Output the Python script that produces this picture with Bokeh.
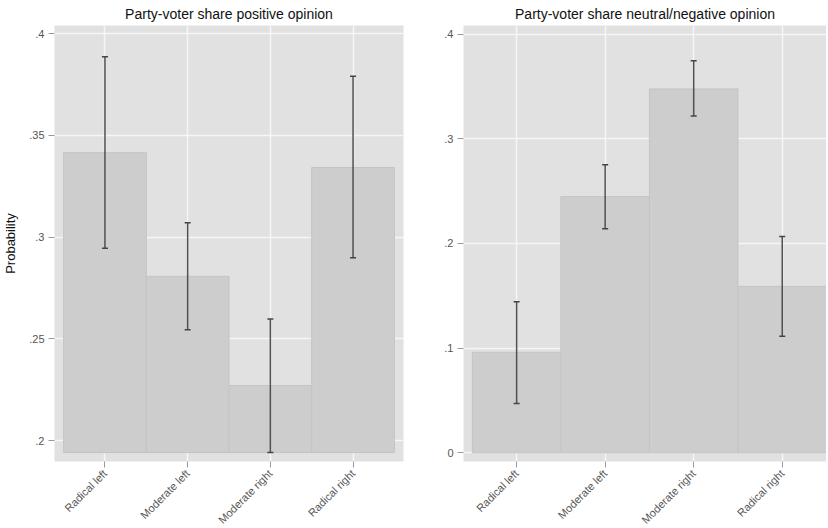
from bokeh.plotting import figure
from bokeh.layouts import row
from bokeh.models import ColumnDataSource, FixedTicker, Whisker, TeeHead
from bokeh.embed import file_html
from bokeh.resources import INLINE
import math

categories = ["Radical left", "Moderate left", "Moderate right", "Radical right"]
positions = [1, 2, 3, 4]

pos_mean = [0.3415, 0.2807, 0.2270, 0.3342]
pos_lower = [0.2945, 0.2545, 0.1941, 0.2898]
pos_upper = [0.3887, 0.3071, 0.2598, 0.3790]

neg_mean = [0.0960, 0.2447, 0.3476, 0.1590]
neg_lower = [0.0470, 0.2141, 0.3218, 0.1113]
neg_upper = [0.1444, 0.2752, 0.3746, 0.2067]

pos_ticks = [0.2, 0.25, 0.3, 0.35, 0.4]
pos_tick_labels = [".2", ".25", ".3", ".35", ".4"]
neg_ticks = [0.0, 0.1, 0.2, 0.3, 0.4]
neg_tick_labels = ["0", ".1", ".2", ".3", ".4"]

FONT = "Liberation Sans"
FRAME_BG = "#e1e1e1"
BAR = "#cdcdcd"
BAR_LINE = "#c4c4c4"


def make_panel(title, mean, lower, upper, ticks, tick_labels, base, yr, xr,
               fw, left_border, right_border, ylabel=None):
    p = figure(frame_width=fw, frame_height=436, x_range=xr, y_range=yr,
               output_backend="svg", toolbar_location=None,
               min_border_left=left_border, min_border_right=right_border,
               min_border_top=18, min_border_bottom=66)
    p.title.text = title
    p.title.text_font = FONT
    p.title.text_font_size = "14px"
    p.title.text_font_style = "normal"
    p.title.text_color = "#111111"
    p.title.align = "center"
    p.title.standoff = 7
    p.background_fill_color = FRAME_BG
    p.border_fill_color = "white"
    p.outline_line_color = None

    src = ColumnDataSource(dict(x=positions, top=mean, lower=lower, upper=upper))
    p.vbar(x="x", top="top", bottom=base, width=1.0, source=src,
           fill_color=BAR, line_color=BAR_LINE, line_width=1)

    w = Whisker(base="x", lower="lower", upper="upper", source=src,
                line_color="#505050", line_width=1.5, level="overlay",
                lower_head=TeeHead(size=6, line_color="#444444", line_width=1.5),
                upper_head=TeeHead(size=6, line_color="#444444", line_width=1.5))
    p.add_layout(w)

    p.xaxis.ticker = FixedTicker(ticks=positions)
    p.xaxis.major_label_overrides = {pp: c for pp, c in zip(positions, categories)}
    p.xaxis.major_label_orientation = math.pi / 4
    p.yaxis.ticker = FixedTicker(ticks=ticks)
    p.yaxis.major_label_overrides = {t: l for t, l in zip(ticks, tick_labels)}
    for ax in (p.xaxis, p.yaxis):
        ax.axis_line_color = None
        ax.major_tick_line_color = "#9a9a9a"
        ax.major_tick_in = 0
        ax.major_tick_out = 6
        ax.minor_tick_line_color = None
        ax.major_label_text_font = FONT
        ax.major_label_text_color = "#555555"
        ax.major_label_standoff = 4
    p.xaxis.major_label_text_font_size = "11px"
    p.yaxis.major_label_text_font_size = "11px"
    if ylabel:
        p.yaxis.axis_label = ylabel
        p.yaxis.axis_label_text_font = FONT
        p.yaxis.axis_label_text_font_size = "13px"
        p.yaxis.axis_label_text_font_style = "normal"
        p.yaxis.axis_label_text_color = "#111111"
        p.yaxis.axis_label_standoff = 8

    p.xgrid.ticker = FixedTicker(ticks=positions)
    p.ygrid.ticker = FixedTicker(ticks=ticks)
    for g in (p.xgrid, p.ygrid):
        g.grid_line_color = "#f6f6f6"
        g.grid_line_width = 1.5
    return p


p1 = make_panel("Party-voter share positive opinion", pos_mean, pos_lower, pos_upper,
                pos_ticks, pos_tick_labels, 0.1941, (0.1897, 0.404), (0.39, 4.61),
                349, 48, 9, ylabel="Probability")
p2 = make_panel("Party-voter share neutral/negative opinion", neg_mean, neg_lower, neg_upper,
                neg_ticks, neg_tick_labels, 0.0, (-0.0083, 0.4082), (0.40, 4.50),
                363, 51, 0)

layout = row(p1, p2)
open("out.html", "w").write(file_html(layout, INLINE))
